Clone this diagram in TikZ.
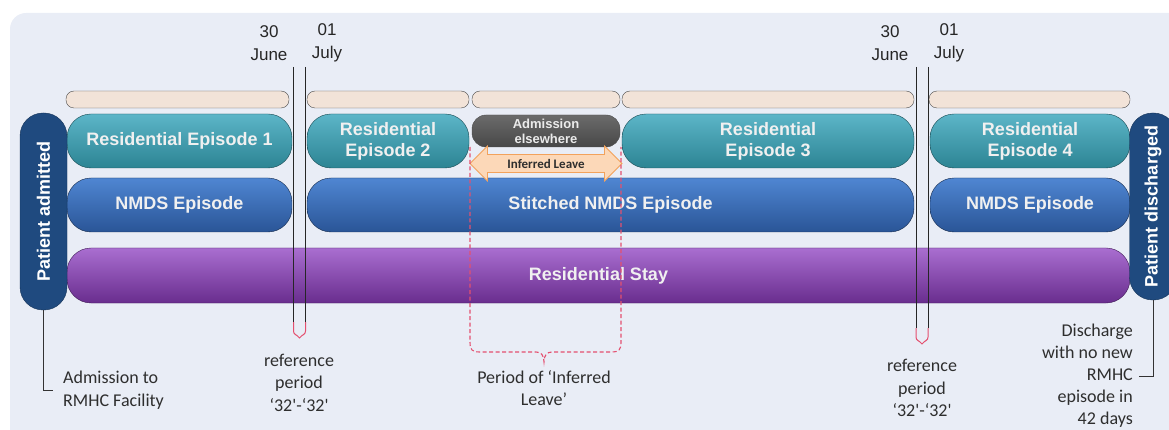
\documentclass[tikz,border=0pt]{standalone}
\usepackage{fontspec}
\setmainfont{Liberation Sans}
\newfontfamily\notefont{Carlito}
\usetikzlibrary{shapes.arrows}

\definecolor{panel}{HTML}{E9EDF6}
\definecolor{tagfill}{HTML}{F2E3D8}
\definecolor{tealtop}{HTML}{5CB5C8}
\definecolor{tealbot}{HTML}{2C8493}
\definecolor{bluetop}{HTML}{4F86D2}
\definecolor{bluebot}{HTML}{2A5597}
\definecolor{purtop}{HTML}{A96ED0}
\definecolor{purbot}{HTML}{692D8E}
\definecolor{navy}{HTML}{1F4A7F}
\definecolor{leavefill}{HTML}{FCD8B8}
\definecolor{leaveline}{HTML}{F2A25C}
\definecolor{pinkline}{HTML}{E4506F}
\definecolor{inktext}{HTML}{2E2E2E}

\begin{document}
\begin{tikzpicture}[x=1pt,y=-1pt,
    tag/.style={rounded corners=8pt,draw=black!70,fill=tagfill,minimum height=17pt,inner sep=0pt},
    box/.style={rounded corners=24pt,minimum height=54pt,inner sep=0pt,align=center,
                text=white!94!black,font=\fontsize{18}{21}\selectfont\bfseries},
    resep/.style={box,draw=tealbot!55!black,top color=tealtop,bottom color=tealbot},
    nmds/.style={box,draw=bluebot!50!black,top color=bluetop,bottom color=bluebot},
    stay/.style={box,minimum height=55pt,draw=purbot!60!black,top color=purtop,bottom color=purbot},
    away/.style={rounded corners=14pt,minimum width=148pt,minimum height=32pt,inner sep=0pt,align=center,
                 draw=black!70,top color=black!58,bottom color=black!72,text=white!92!black,
                 font=\fontsize{13}{15}\selectfont\bfseries},
    leave/.style={double arrow,double arrow head extend=7pt,minimum height=152pt,minimum width=35pt,
                  inner sep=2.5pt,draw=leaveline,line width=0.8pt,fill=leavefill,text=inktext,
                  font=\notefont\fontsize{13}{15}\selectfont\bfseries},
    patient/.style={rotate=90,rounded corners=23pt,minimum height=47pt,inner sep=0pt,fill=navy,
                    draw=navy!70!black,text=white,font=\fontsize{18}{21}\selectfont\bfseries},
    date/.style={align=center,inner sep=0pt,text=black!85,font=\fontsize{17}{23.5}\selectfont},
    note/.style={align=center,inner sep=0pt,text=inktext,font=\notefont\fontsize{18}{22.5}\selectfont},
    lead/.style={draw=black!80,line width=0.9pt},
    refline/.style={draw=black!85,line width=1pt},
    refend/.style={draw=pinkline,line width=1pt},
    leavebrace/.style={draw=pinkline,line width=1.1pt,dash pattern=on 4pt off 2.5pt}]

  \useasboundingbox (0,0) rectangle (1169,430);
  \fill[panel,rounded corners=16pt] (10,13) rectangle (1200,460);

  % dates
  \node[date] (jun1) at (269,43) {30\\June};
  \node[date] (jul1) at (327,43) {01\\July};
  \node[date] (jun2) at (890,43) {30\\June};
  \node[date] (jul2) at (949,43) {01\\July};

  % thin bars above the episodes
  \node[tag,minimum width=223pt] (t1) at (177.5,99.5) {};
  \node[tag,minimum width=162pt] (t2) at (388,99.5) {};
  \node[tag,minimum width=148pt] (t3) at (546,99.5) {};
  \node[tag,minimum width=292pt] (t4) at (768,99.5) {};
  \node[tag,minimum width=201pt] (t5) at (1029.5,99.5) {};

  % residential episodes
  \node[resep,minimum width=225pt] (re1) at (179.5,141) {Residential Episode 1};
  \node[resep,minimum width=162pt] (re2) at (388,141) {Residential\\Episode 2};
  \node[away]                      (away) at (546,131) {Admission\\elsewhere};
  \node[resep,minimum width=292pt] (re3) at (768,141) {Residential\\Episode 3};
  \node[resep,minimum width=200pt] (re4) at (1030,141) {Residential\\Episode 4};

  % NMDS episodes and the stay
  \node[nmds,minimum width=225pt] (ne1) at (179.5,205) {NMDS Episode};
  \node[nmds,minimum width=607pt] (ne2) at (610.5,205) {Stitched NMDS Episode};
  \node[nmds,minimum width=200pt] (ne3) at (1030,205) {NMDS Episode};
  \node[stay,minimum width=1063pt] (stay) at (598.5,275.5) {Residential Stay};

  \node[leave] (leave) at (546,163.5) {Inferred Leave};

  \node[patient,minimum width=197pt] (pin)  at (43.5,211.5) {Patient admitted};
  \node[patient,minimum width=187pt] (pout) at (1153,206.5) {Patient discharged};

  % 30 June / 01 July markers
  \foreach \xa/\xb/\yb in {293.5/305.5/322,916/928/328}{
    \draw[refline] (\xa,67) -- (\xa,\yb) (\xb,67) -- (\xb,\yb);
    \draw[refend] (\xa,\yb) -- (\xa,\yb+9) .. controls (\xa,\yb+13) and (\xa+3,\yb+12) .. (\xa+6,\yb+16)
                  .. controls (\xb-3,\yb+12) and (\xb,\yb+13) .. (\xb,\yb+9) -- (\xb,\yb);
  }

  \draw[leavebrace] (470,147) -- (470,342) .. controls (470,350) and (472,352) .. (480,352) -- (536,352)
        .. controls (541,352) and (544,355) .. (544,362) .. controls (544,355) and (547,352) .. (552,352)
        -- (611,352) .. controls (619,352) and (621,350) .. (621,342) -- (621,147);

  % notes below
  \node[note,align=left,anchor=west] (admnote) at (63,390) {Admission to\\RMHC Facility};
  \node[note] (ref1) at (299,382.5) {reference\\period\\‘32\textquotesingle-‘32\textquotesingle};
  \node[note] (leavenote) at (544,388) {Period of ‘Inferred\\Leave’};
  \node[note] (ref2) at (922,388) {reference\\period\\‘32\textquotesingle-‘32\textquotesingle};
  \node[note,align=right,anchor=east,font=\notefont\fontsize{18}{22}\selectfont]
        (disnote) at (1133,376) {Discharge\\with no new\\RMHC\\episode in\\42 days};

  \draw[lead] (pin.west) |- ([xshift=-10pt]admnote.west);
  \draw[lead] (pout.west) |- ([xshift=6pt]disnote.east);
\end{tikzpicture}
\end{document}
